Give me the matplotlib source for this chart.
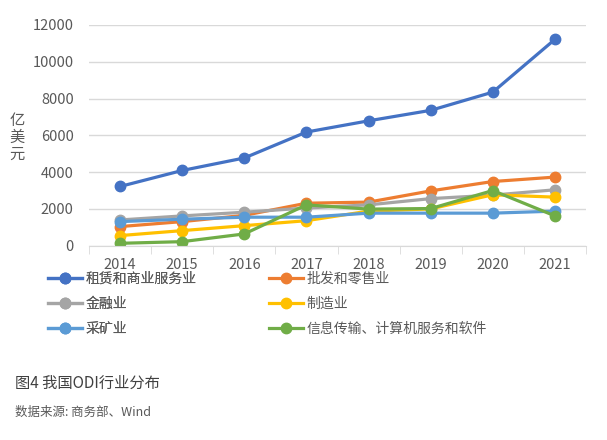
import matplotlib
matplotlib.use('Agg')
import matplotlib.pyplot as plt

plt.rcParams['font.family'] = ['Noto Sans CJK SC', 'DejaVu Sans']

# 数据
years = ['2014', '2015', '2016', '2017', '2018', '2019', '2020', '2021']
zulin = [3220, 4090, 4770, 6180, 6790, 7360, 8350, 11220]
pifa = [1040, 1310, 1650, 2310, 2370, 2980, 3490, 3730]
jinrong = [1400, 1620, 1820, 2050, 2220, 2560, 2750, 3040]
zhizao = [550, 820, 1090, 1360, 1880, 2000, 2770, 2640]
caikuang = [1310, 1440, 1550, 1550, 1770, 1770, 1770, 1880]
xinxi = [130, 220, 640, 2220, 1990, 2020, 3000, 1620]

names = ['租赁和商业服务业', '批发和零售业', '金融业', '制造业', '采矿业', '信息传输、计算机服务和软件']
series = [zulin, pifa, jinrong, zhizao, caikuang, xinxi]
colors = ['#4472C4', '#ED7D31', '#A5A5A5', '#FFC000', '#5B9BD5', '#70AD47']

fig = plt.figure(figsize=(6.07, 4.4), dpi=100)
ax = fig.add_axes([89/607, 1-245.7/440, (586-89)/607, (245.7-25)/440])

x = list(range(len(years)))
lines = []
for vals, name, c in zip(series, names, colors):
    ln, = ax.plot(x, vals, color=c, lw=2.3, marker='o', ms=7.5, label=name)
    lines.append(ln)

ax.set_xlim(-0.5, 7.5)
ax.set_ylim(0, 12000)
ax.set_yticks(range(0, 12001, 2000))
ax.yaxis.grid(True, color='#D9D9D9', lw=1)
ax.set_axisbelow(True)
for s in ['top', 'right', 'left']:
    ax.spines[s].set_visible(False)
ax.spines['bottom'].set_color('#D9D9D9')
ax.tick_params(axis='y', length=0, labelsize=10.5, labelcolor='#595959', pad=11)

ax.set_xticks(x)
ax.set_xticklabels(years)
ax.set_xticks([i - 0.5 for i in range(9)], minor=True)
ax.tick_params(axis='x', which='major', length=0, labelsize=10.5, labelcolor='#595959', pad=9)
ax.tick_params(axis='x', which='minor', length=6, color='#D9D9D9')

fig.text(17/607, 1-137/440, '亿\n美\n元', fontsize=11, color='#595959',
         ha='center', va='center', linespacing=1.0)

# 两列图例
leg_kw = dict(loc='upper left', frameon=False, borderpad=0, borderaxespad=0,
              handlelength=2.45, handletextpad=0.22, labelspacing=0.78,
              fontsize=10, labelcolor='#595959')
leg1 = fig.legend([lines[0], lines[2], lines[4]], [names[0], names[2], names[4]],
                  bbox_to_anchor=(48/607, 1-272/440), **leg_kw)
leg2 = fig.legend([lines[1], lines[3], lines[5]], [names[1], names[3], names[5]],
                  bbox_to_anchor=(269/607, 1-272/440), **leg_kw)
fig.add_artist(leg1)

fig.text(15/607, 1-383/440, '图4 我国ODI行业分布', fontsize=11, color='#404040', va='center')
fig.text(15/607, 1-412/440, '数据来源: 商务部、Wind', fontsize=9, color='#595959', va='center')

fig.savefig('out.png', dpi=100)
